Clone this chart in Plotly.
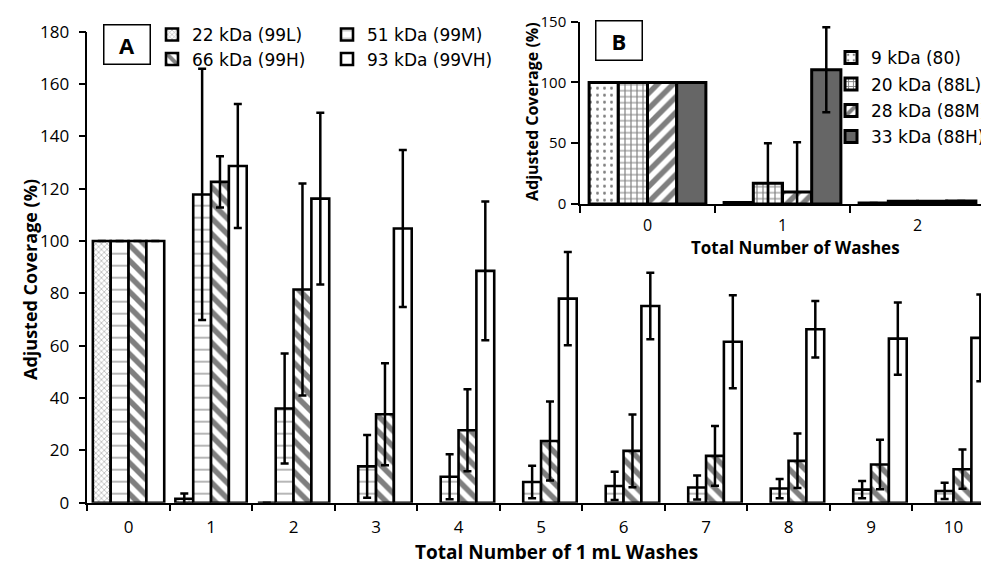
import plotly.graph_objects as go

# The page has an 8 px body margin, so the figure is made 8 px smaller
# and all positions below are given in page pixels and converted.
PAGE_W, PAGE_H = 989, 567
OFF = 8
W, H = PAGE_W - OFF, PAGE_H - OFF

# ---------------- data: panel A ----------------
washes_a = ["0", "1", "2", "3", "4", "5", "6", "7", "8", "9", "10"]
kda22 = [100, 1.5, 0, None, None, None, None, None, None, None, None]
kda22_err = [None, 2, None, None, None, None, None, None, None, None, None]
kda51 = [100, 117.8, 36.0, 13.9, 9.9, 7.9, 6.4, 5.8, 5.4, 5.0, 4.5]
kda51_err = [None, 48, 21, 12, 8.6, 6.2, 5.4, 4.6, 3.7, 3.3, 3.1]
kda66 = [100, 122.6, 81.5, 33.8, 27.7, 23.6, 19.8, 17.9, 16.0, 14.6, 12.8]
kda66_err = [None, 9.8, 40.5, 19.5, 15.7, 15.1, 13.9, 11.4, 10.4, 9.5, 7.5]
kda93 = [100, 128.7, 116.2, 104.8, 88.6, 78.0, 75.2, 61.5, 66.3, 62.7, 63.0]
kda93_err = [None, 23.7, 32.8, 30.0, 26.5, 17.8, 12.7, 17.8, 10.8, 13.8, 16.6]

# ---------------- data: panel B ----------------
washes_b = ["0", "1", "2"]
kda9 = [100, 1.2, 0.8]
kda9_err = [None, None, None]
kda20 = [100, 17.0, 2.2]
kda20_err = [None, 33, None]
kda28 = [100, 9.8, 2.2]
kda28_err = [None, 41, None]
kda33 = [100, 110.5, 2.4]
kda33_err = [None, 35, None]

FONT = "Open Sans, Noto Sans, sans-serif"
LFONT = "DejaVu Sans, Open Sans, sans-serif"


def px(x):
    return (x - OFF) / W


def py(y):
    return 1 - (y - OFF) / H


def err(vals):
    return dict(type="data", array=vals, visible=True, color="black",
                thickness=2.5, width=4)


fig = go.Figure()

line = dict(color="black", width=2.6)

a_series = [
    ("22 kDa (99L)", kda22, kda22_err, dict(shape="x", size=4, solidity=0.35,
                                             fgcolor="#6a6a6a", bgcolor="white"), "legend"),
    ("51 kDa (99M)", kda51, kda51_err, dict(shape="-", size=12, solidity=0.13,
                                             fgcolor="#444444", bgcolor="white"), "legend2"),
    ("66 kDa (99H)", kda66, kda66_err, dict(shape="\\", size=11, solidity=0.5,
                                             fgcolor="black", bgcolor="white"), "legend3"),
    ("93 kDa (99VH)", kda93, kda93_err, dict(shape="", fgcolor="black", bgcolor="white"), "legend4"),
]
for name, vals, e, pat, lg in a_series:
    fig.add_trace(go.Bar(
        x=washes_a, y=vals, name=name, error_y=err(e),
        marker=dict(color="white", line=line, pattern=pat),
        xaxis="x", yaxis="y", legend=lg,
    ))

b_series = [
    ("9 kDa (80)", kda9, kda9_err, dict(shape=".", size=7, solidity=0.14,
                                        fgcolor="black", bgcolor="white"), "white", "legend5"),
    ("20 kDa (88L)", kda20, kda20_err, dict(shape="+", size=6, solidity=0.35,
                                            fgcolor="black", bgcolor="white"), "white", "legend6"),
    ("28 kDa (88M)", kda28, kda28_err, dict(shape="/", size=11, solidity=0.5,
                                            fgcolor="black", bgcolor="white"), "white", "legend7"),
    ("33 kDa (88H)", kda33, kda33_err, dict(shape=""), "#666666", "legend8"),
]
for name, vals, e, pat, col, lg in b_series:
    fig.add_trace(go.Bar(
        x=washes_b, y=vals, name=name, error_y=err(e),
        marker=dict(color=col, line=dict(color="black", width=3), pattern=pat),
        xaxis="x2", yaxis="y2", legend=lg,
    ))

axis_common = dict(showline=True, linecolor="black", linewidth=1.5, ticks="outside",
                   ticklen=7, tickcolor="black", tickwidth=1.5, showgrid=False,
                   zeroline=False, automargin=False)
tick_main = dict(family=FONT, size=17, color="black")
tick_inset = dict(family=FONT, size=15, color="black")


def leg(x, y):
    return dict(x=px(x), y=py(y), xanchor="left", yanchor="top", bgcolor="rgba(0,0,0,0)",
                font=dict(family=LFONT, size=17, color="black"), borderwidth=0)


fig.update_layout(
    width=W, height=H,
    margin=dict(l=0, r=0, t=0, b=0, autoexpand=False),
    paper_bgcolor="white", plot_bgcolor="white",
    barmode="group", bargap=0.135, bargroupgap=0,
    xaxis=dict(domain=[px(87.3), 1], type="category",
               range=[-0.5, -0.5 + (PAGE_W - 87.3) / 82.5],
               tickson="boundaries", ticklabelstandoff=8, anchor="y",
               tickfont=tick_main, **axis_common),
    yaxis=dict(domain=[py(502.7), py(31.7)], range=[0, 180], tickvals=list(range(0, 181, 20)),
               ticklabelstandoff=6, anchor="x", tickfont=tick_main, **axis_common),
    xaxis2=dict(domain=[px(580), px(985)], type="category", range=[-0.5, 2.5],
                tickson="boundaries", ticklabelstandoff=6, anchor="y2",
                tickfont=dict(family=FONT, size=16, color="black"), **axis_common),
    yaxis2=dict(domain=[py(204), py(21.7)], range=[0, 150], tickvals=[0, 50, 100, 150],
                ticklabelstandoff=2, anchor="x2", tickfont=tick_inset, **axis_common),
    legend=leg(152, 17),
    legend2=leg(327, 17),
    legend3=leg(152, 41.5),
    legend4=leg(327, 41.5),
    legend5=leg(831, 40),
    legend6=leg(831, 66.5),
    legend7=leg(831, 93),
    legend8=leg(831, 119),
    showlegend=True,
)

annots = [
    dict(text="<b>A</b>", x=px(126.5), y=py(45)),
    dict(text="<b>B</b>", x=px(618.5), y=py(40.5)),
]
for a in annots:
    fig.add_annotation(xref="paper", yref="paper", xanchor="center", yanchor="middle",
                       showarrow=False, bordercolor="black", borderwidth=1.5,
                       width=43, height=36, bgcolor="white",
                       text=a["text"], x=a["x"], y=a["y"],
                       font=dict(family=FONT, size=22, color="black"))

titles = [
    ("<b>Adjusted Coverage (%)</b>", 30, 280, -90, 18),
    ("<b>Total Number of 1 mL Washes</b>", 556, 552, 0, 19),
    ("<b>Adjusted Coverage (%)</b>", 532, 112, -90, 16),
    ("<b>Total Number of Washes</b>", 795, 248, 0, 17),
]
for t, x, y, ang, sz in titles:
    fig.add_annotation(xref="paper", yref="paper", xanchor="center", yanchor="middle",
                       showarrow=False, text=t, x=px(x), y=py(y), textangle=ang,
                       font=dict(family=FONT, size=sz, color="black"))

fig.write_html("out.html")
